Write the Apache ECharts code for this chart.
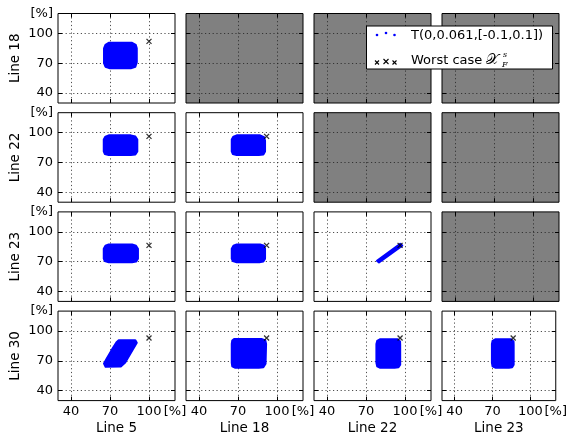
<!DOCTYPE html>
<html><head><meta charset="utf-8">
<script src="https://cdn.jsdelivr.net/npm/echarts@6/dist/echarts.min.js"></script>
<style>html,body{margin:0;padding:0;background:#fff}#c{width:570px;height:440px}</style>
</head><body><div id="c"></div>
<script>
// ---- data ----
const LINE_NAMES = ['Line 5', 'Line 18', 'Line 22', 'Line 23', 'Line 30'];
const COL_LINES = [0, 1, 2, 3];      // x variables (columns)
const ROW_LINES = [1, 2, 3, 4];      // y variables (rows)
const WORST_CASE = [100, 92, 96.2, 86.3, 93];   // worst case per line [%]
const TICK_VALUES = [40, 70, 100];
const AXIS_MIN = 30, AXIS_MAX = 120;
const UNIT_LABEL = '[%]';
const LEGEND_SCATTER = 'T(0,0.061,[-0.1,0.1])';
const LEGEND_WORST = 'Worst case';

// outlines of the sampled clouds (x = column line, y = row line), in %
const CLOUD_18_5  = [[69,90.5],[87,90.5],[89.8,88.5],[90.6,85],[90.6,71],[89.5,66.5],[86,65],[70,65],[66.5,66.5],[65.4,70],[65.4,85],[66.5,88.5]];
const CLOUD_22_5  = [[69,97.2],[86,97.2],[89.5,96],[91,93],[91,81],[89.5,78],[86,77.5],[69,77.5],[66,78.5],[65.2,81],[65.2,93],[66.5,96]];
const CLOUD_22_18 = [[69,97.2],[87,97.2],[90,95.5],[90.8,92],[90.8,81],[89.5,78],[86,77.5],[69,77.5],[66,78.5],[65.2,81],[65.2,93],[66.5,96]];
const CLOUD_23_5  = [[69,87.2],[87,87.2],[90,86],[91.5,83],[91.5,73],[90,70],[87,69.4],[69,69.4],[66,70.5],[65.2,73],[65.2,83],[66.5,86]];
const CLOUD_23_18 = [[69,87.2],[87,87.2],[90,86],[90.8,83],[90.8,73],[89.5,70],[86.5,69.4],[69,69.4],[66,70.5],[65.2,73],[65.2,83],[66.5,86]];
const CLOUD_23_22 = [[78.4,70.9],[80,69.1],[97.9,86.1],[96.3,87.9]];
const CLOUD_30_5  = [[76.7,90.6],[89.5,90.6],[90.6,88.2],[81.7,68.2],[78.3,64.2],[66.6,64],[65.4,67.3],[67.4,72],[71.6,81.5],[75,88.7]];
const CLOUD_30_18 = [[67,92],[88,92],[91,90.5],[91.6,87],[91.2,67],[89.5,63.5],[86,63],[68,63],[65.6,64.5],[65.2,68],[65.2,87],[65.6,90.5]];
const CLOUD_30_22 = [[81,91.8],[94,91.8],[96.2,89.5],[96.3,86],[96.3,66],[95,63.5],[92,63],[81,63],[78.6,64.5],[78,68],[78,87],[78.6,90]];
const CLOUD_30_23 = [[72.5,91.8],[84.5,91.8],[86.6,89.5],[86.7,86],[86.7,66],[85.5,63.5],[83,63],[72.5,63],[70,64.5],[69.5,68],[69.5,87],[70,90]];

const CLOUDS = {
  '0-0': CLOUD_18_5,
  '1-0': CLOUD_22_5, '1-1': CLOUD_22_18,
  '2-0': CLOUD_23_5, '2-1': CLOUD_23_18, '2-2': CLOUD_23_22,
  '3-0': CLOUD_30_5, '3-1': CLOUD_30_18, '3-2': CLOUD_30_22, '3-3': CLOUD_30_23
};

// ---- layout / style ----
const FONT = 'DejaVu Sans';
const L0 = 58, W = 117, DX = 128, T0 = 13.5, H = 89.5, DY = 99.2;
const BLUE = '#0000ff';
const gridLine = { show: true, lineStyle: { color: '#222', width: 0.8, type: [1.2, 2.6] } };
const tickStyle = { show: true, inside: true, length: 4, customValues: TICK_VALUES, lineStyle: { color: '#000', width: 1 } };
const labelFmt = v => (v === AXIS_MAX ? UNIT_LABEL : String(v));

const grids = [], xAxes = [], yAxes = [], series = [];
for (let r = 0; r < 4; r++) {
  for (let c = 0; c < 4; c++) {
    const i = grids.length;
    const active = c <= r;
    grids.push({ left: L0 + DX * c, top: T0 + DY * r, width: W, height: H, show: true,
      backgroundColor: active ? '#ffffff' : '#808080', borderColor: '#000', borderWidth: 1 });
    xAxes.push({ gridIndex: i, type: 'value', min: AXIS_MIN, max: AXIS_MAX, position: 'bottom',
      axisLine: { show: false }, axisTick: tickStyle, splitLine: gridLine,
      axisLabel: { show: r === 3, customValues: TICK_VALUES.concat([AXIS_MAX]), formatter: labelFmt,
        showMinLabel: true, showMaxLabel: true, margin: 5, color: '#000', fontSize: 13, fontFamily: FONT },
      name: r === 3 ? LINE_NAMES[COL_LINES[c]] : '', nameLocation: 'middle', nameGap: 21,
      nameTextStyle: { color: '#000', fontSize: 13.5, fontFamily: FONT } });
    xAxes.push({ gridIndex: i, type: 'value', min: AXIS_MIN, max: AXIS_MAX, position: 'top',
      axisLine: { show: false }, axisTick: tickStyle, splitLine: { show: false }, axisLabel: { show: false } });
    yAxes.push({ gridIndex: i, type: 'value', min: AXIS_MIN, max: AXIS_MAX, position: 'left',
      axisLine: { show: false }, axisTick: tickStyle, splitLine: gridLine,
      axisLabel: { show: c === 0, customValues: TICK_VALUES.concat([AXIS_MAX]), formatter: labelFmt,
        showMinLabel: true, showMaxLabel: true, margin: 5, color: '#000', fontSize: 13, fontFamily: FONT },
      name: c === 0 ? LINE_NAMES[ROW_LINES[r]] : '', nameLocation: 'middle', nameGap: 36, nameRotate: 90,
      nameTextStyle: { color: '#000', fontSize: 13.5, fontFamily: FONT } });
    yAxes.push({ gridIndex: i, type: 'value', min: AXIS_MIN, max: AXIS_MAX, position: 'right',
      axisLine: { show: false }, axisTick: tickStyle, splitLine: { show: false }, axisLabel: { show: false } });
    if (!active) continue;
    const cloud = CLOUDS[r + '-' + c];
    series.push({ type: 'custom', xAxisIndex: 2 * i, yAxisIndex: 2 * i, data: cloud, silent: true, z: 3,
      renderItem: (params, api) => {
        if (params.dataIndex !== 0) return null;
        const pts = cloud.map(p => api.coord(p));
        return { type: 'polygon', shape: { points: pts },
          style: { fill: BLUE, stroke: BLUE, lineWidth: 2, lineJoin: 'round' } };
      } });
    series.push({ type: 'scatter', xAxisIndex: 2 * i, yAxisIndex: 2 * i, z: 5, silent: true,
      data: [[WORST_CASE[COL_LINES[c]], WORST_CASE[ROW_LINES[r]]]],
      symbol: 'path://M0,0L10,10M10,0L0,10', symbolSize: 5,
      itemStyle: { color: 'none', borderColor: '#000', borderWidth: 1.3 } });
  }
}

// legend (drawn as graphics)
const cross = (cx, cy, s) => [
  { type: 'line', shape: { x1: cx - s, y1: cy - s, x2: cx + s, y2: cy + s }, style: { stroke: '#000', lineWidth: 1.1 }, z: 101 },
  { type: 'line', shape: { x1: cx - s, y1: cy + s, x2: cx + s, y2: cy - s }, style: { stroke: '#000', lineWidth: 1.1 }, z: 101 }
];
const graphic = [
  { type: 'rect', shape: { x: 366.5, y: 26, width: 186, height: 43 }, style: { fill: '#fff', stroke: '#000', lineWidth: 1 }, z: 100 },
  { type: 'circle', shape: { cx: 377, cy: 35, r: 1.3 }, style: { fill: BLUE }, z: 101 },
  { type: 'circle', shape: { cx: 386, cy: 33, r: 1.3 }, style: { fill: BLUE }, z: 101 },
  { type: 'circle', shape: { cx: 394.5, cy: 35, r: 1.3 }, style: { fill: BLUE }, z: 101 },
  { type: 'text', style: { text: LEGEND_SCATTER, x: 411, y: 36, verticalAlign: 'middle', font: '13px ' + FONT, fill: '#000' }, z: 101 },
  ...cross(377, 62.5, 2), ...cross(386, 61.5, 2.5), ...cross(394.5, 62.5, 2),
  { type: 'text', style: { text: LEGEND_WORST, x: 411, y: 61, verticalAlign: 'middle', font: '13px ' + FONT, fill: '#000' }, z: 101 },
  { type: 'text', style: { text: '\u{1D4B3}', x: 486, y: 60.5, verticalAlign: 'middle', font: '15px ' + FONT, fill: '#000' }, z: 101 },
  { type: 'text', style: { text: 's', x: 503, y: 55, verticalAlign: 'middle', font: 'italic 8px DejaVu Serif', fill: '#000' }, z: 101 },
  { type: 'text', style: { text: 'F', x: 502, y: 65, verticalAlign: 'middle', font: 'italic 8px DejaVu Serif', fill: '#000' }, z: 101 }
];

const chart = echarts.init(document.getElementById('c'), null, { renderer: 'canvas' });
chart.setOption({ animation: false, backgroundColor: '#fff', grid: grids, xAxis: xAxes, yAxis: yAxes, series, graphic });
</script></body></html>
